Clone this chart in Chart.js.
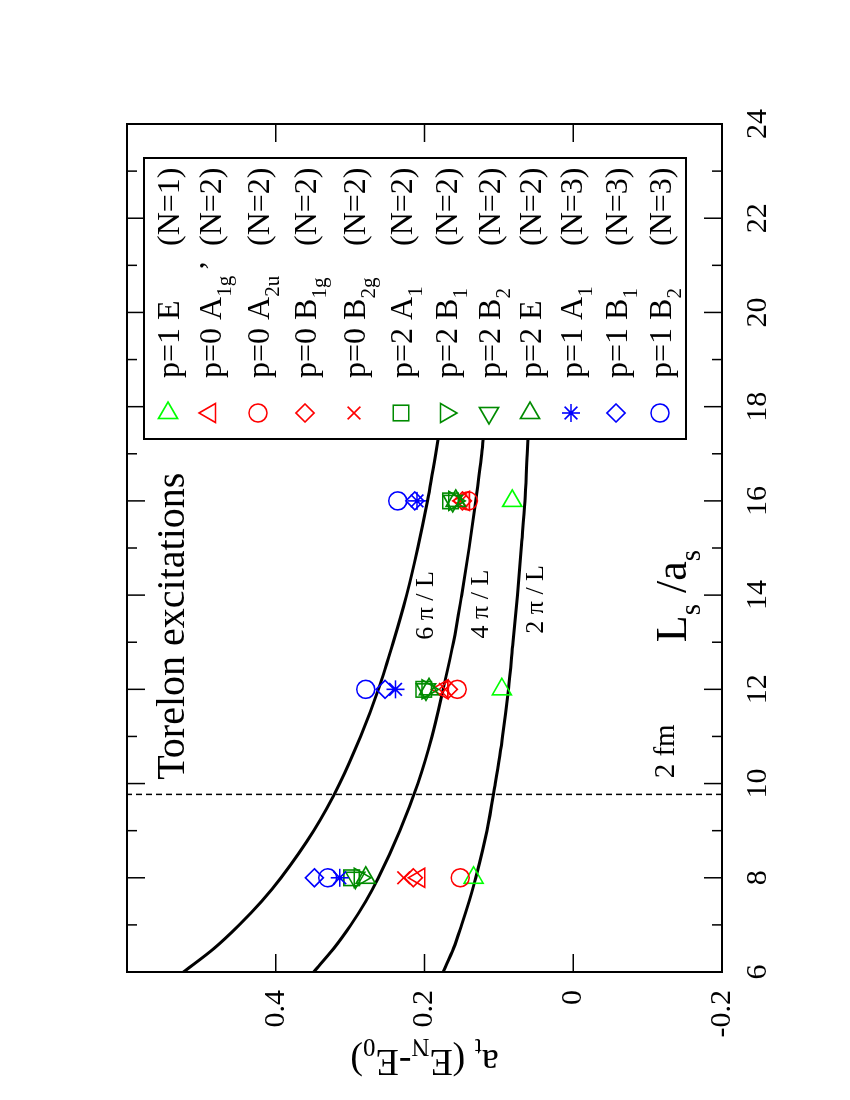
<!DOCTYPE html>
<html>
<head>
<meta charset="utf-8">
<script src="https://cdn.jsdelivr.net/npm/chart.js@4.4.1/dist/chart.umd.min.js"></script>
<style>
html,body{margin:0;padding:0;background:#fff;overflow:hidden;width:850px;height:1100px;}
#wrap{position:absolute;left:0;top:0;width:1100px;height:850px;transform-origin:0 0;transform:translateY(1100px) rotate(-90deg);background:#fff;}
canvas{display:block;}
</style>
</head>
<body>
<div id="wrap"><canvas id="c" width="1100" height="850"></canvas></div>
<script>
// ---------------- data ----------------
const L_VALUES = [8, 12, 16];

const p1_E      = [0.134, 0.096, 0.082];
const p0_A1gp   = [0.207, 0.176, 0.147];
const p0_A2u    = [0.152, 0.156, 0.141];
const p0_B1g    = [0.215, 0.168, 0.149];
const p0_B2g    = [0.228, 0.172, 0.151];
const p2_A1     = [0.298, 0.201, 0.165];
const p2_B1     = [0.287, 0.196, 0.160];
const p2_B2     = [0.293, 0.198, 0.162];
const p2_E      = [0.279, 0.194, 0.158];
const p1_A1_N3  = [0.314, 0.239, 0.210];
const p1_B1_N3  = [0.348, 0.253, 0.213];
const p1_B2_N3  = [0.330, 0.279, 0.236];

const SERIES_NAMES = ["p=1 E (N=1)", "p=0 A1g' (N=2)", "p=0 A2u (N=2)", "p=0 B1g (N=2)", "p=0 B2g (N=2)",
  "p=2 A1 (N=2)", "p=2 B1 (N=2)", "p=2 B2 (N=2)", "p=2 E (N=2)", "p=1 A1 (N=3)", "p=1 B1 (N=3)", "p=1 B2 (N=3)"];
const SERIES_VALUES = [p1_E, p0_A1gp, p0_A2u, p0_B1g, p0_B2g, p2_A1, p2_B1, p2_B2, p2_E, p1_A1_N3, p1_B1_N3, p1_B2_N3];

// legend texts (main part with subscripts, and the N part)
const LEGEND_MAIN = [
  [["p=1 E"]],
  [["p=0 A"], ["1g", "sub"], ["\u2019", "prime"]],
  [["p=0 A"], ["2u", "sub"]],
  [["p=0 B"], ["1g", "sub"]],
  [["p=0 B"], ["2g", "sub"]],
  [["p=2 A"], ["1", "sub"]],
  [["p=2 B"], ["1", "sub"]],
  [["p=2 B"], ["2", "sub"]],
  [["p=2 E"]],
  [["p=1 A"], ["1", "sub"]],
  [["p=1 B"], ["1", "sub"]],
  [["p=1 B"], ["2", "sub"]]
];
const LEGEND_N = ["(N=1)", "(N=2)", "(N=2)", "(N=2)", "(N=2)", "(N=2)", "(N=2)", "(N=2)", "(N=2)", "(N=3)", "(N=3)", "(N=3)"];

// theory curves
const CURVE_L    = [6, 6.5, 7, 7.5, 8, 9, 10, 11, 12, 13, 14, 15, 16, 17, 17.5];
const CURVE_2PI  = [0.175, 0.161, 0.150, 0.140, 0.131, 0.116, 0.105, 0.095, 0.087, 0.081, 0.075, 0.070, 0.065, 0.062, 0.060];
const CURVE_4PI  = [0.349, 0.322, 0.299, 0.279, 0.262, 0.233, 0.209, 0.190, 0.175, 0.161, 0.150, 0.140, 0.131, 0.123, 0.120];
const CURVE_6PI  = [0.524, 0.483, 0.449, 0.419, 0.393, 0.349, 0.314, 0.286, 0.262, 0.242, 0.224, 0.209, 0.196, 0.185, 0.180];

const FM_L = 9.77;          // 2 fm line
const X_MIN = 6, X_MAX = 24, X_STEP = 2;
const Y_MIN = -0.2, Y_MAX = 0.6, Y_STEP = 0.2;

// ---------------- styles ----------------
const LIME = '#00ff00', RED = '#ff0000', DGREEN = '#008b00', BLUE = '#0000ff';
const STYLES = [
  {c: LIME,   s: 'triangle', r: 11, rot: 90},
  {c: RED,    s: 'triangle', r: 11, rot: 0},
  {c: RED,    s: 'circle',   r: 9,  rot: 0},
  {c: RED,    s: 'rectRot',  r: 9,  rot: 0},
  {c: RED,    s: 'crossRot', r: 9,  rot: 0},
  {c: DGREEN, s: 'rect',     r: 11, rot: 0},
  {c: DGREEN, s: 'triangle', r: 11, rot: 180},
  {c: DGREEN, s: 'triangle', r: 11, rot: 270},
  {c: DGREEN, s: 'triangle', r: 11, rot: 90},
  {c: BLUE,   s: 'star',     r: 9,  rot: 0},
  {c: BLUE,   s: 'rectRot',  r: 9,  rot: 0},
  {c: BLUE,   s: 'circle',   r: 9,  rot: 0}
];
const FONT = '"Liberation Serif", "Times New Roman", serif';

function curveDS(vals){
  return {data: CURVE_L.map((x, i) => ({x, y: vals[i]})), showLine: true, borderColor: '#000',
    borderWidth: 3, pointRadius: 0, cubicInterpolationMode: 'monotone', fill: false, order: 20};
}
const datasets = [curveDS(CURVE_2PI), curveDS(CURVE_4PI), curveDS(CURVE_6PI),
  {data: [{x: FM_L, y: Y_MIN}, {x: FM_L, y: Y_MAX}], showLine: true, borderColor: '#000', borderWidth: 1.5,
   borderDash: [6, 4], pointRadius: 0, order: 21}];
SERIES_VALUES.forEach((vals, i) => {
  const st = STYLES[i];
  datasets.push({label: SERIES_NAMES[i], data: L_VALUES.map((x, j) => ({x, y: vals[j]})), showLine: false,
    pointStyle: st.s, pointRadius: st.r, pointRotation: st.rot, pointBorderColor: st.c, pointBackgroundColor: 'rgba(0,0,0,0)',
    pointBorderWidth: 1.6, borderColor: st.c, backgroundColor: 'rgba(0,0,0,0)', order: 10 - i * 0.01, isSeries: true});
});

// rich text helpers
function richWidth(ctx, parts, size){
  let w = 0;
  for (const [t, k] of parts){
    const fs = (k === 'sub') ? Math.round(size * 0.66) : size;
    ctx.font = fs + 'px ' + FONT;
    w += ctx.measureText(t).width + (k === 'prime' ? size * 0.15 : 0);
  }
  return w;
}
function drawRich(ctx, parts, x, y, size){
  let cx = x;
  for (const [t, k] of parts){
    let fs = size, dy = 0;
    if (k === 'sub'){ fs = Math.round(size * 0.66); dy = size * 0.3; }
    if (k === 'prime'){ cx += size * 0.15; }
    ctx.font = fs + 'px ' + FONT;
    ctx.fillText(t, cx, y + dy);
    cx += ctx.measureText(t).width;
  }
  return cx - x;
}

const ANNOT = [
  {parts: [["Torelon excitations"]], x: 10.08, y: 0.523, size: 40},
  {parts: [["6 \u03c0 / L"]], x: 13.05, y: 0.188, size: 26},
  {parts: [["4 \u03c0 / L"]], x: 13.08, y: 0.115, size: 26},
  {parts: [["2 \u03c0 / L"]], x: 13.18, y: 0.041, size: 26},
  {parts: [["2 fm"]], x: 10.11, y: -0.135, size: 29},
  {parts: [["L"], ["s", "sub"], [" /"], ["a"], ["s", "sub"]], x: 13.0, y: -0.152, size: 44}
];
const LEGEND_ROWS = [168, 210, 258, 305, 354, 401, 446, 489, 530, 571, 616, 660];

const decor = {
  id: 'decor',
  afterDatasetsDraw(chart){
    const {ctx, chartArea: a, scales: {x, y}} = chart;
    ctx.save();
    ctx.fillStyle = '#000';
    ctx.textBaseline = 'alphabetic';
    ctx.textAlign = 'left';
    // annotations
    for (const an of ANNOT){
      drawRich(ctx, an.parts, x.getPixelForValue(an.x), y.getPixelForValue(an.y), an.size);
    }
    // legend box
    const bx0 = 661, bx1 = 942, by0 = 144, by1 = 686;
    ctx.fillStyle = '#fff';
    ctx.fillRect(bx0, by0, bx1 - bx0, by1 - by0);
    ctx.strokeStyle = '#000';
    ctx.lineWidth = 2;
    ctx.strokeRect(bx0, by0, bx1 - bx0, by1 - by0);
    const ser = chart.data.datasets.filter(d => d.isSeries);
    ser.forEach((d, i) => {
      const ry = LEGEND_ROWS[i];
      ctx.save();
      ctx.strokeStyle = d.pointBorderColor;
      ctx.fillStyle = 'rgba(0,0,0,0)';
      ctx.lineWidth = d.pointBorderWidth;
      Chart.helpers.drawPoint(ctx, {pointStyle: d.pointStyle, rotation: d.pointRotation, radius: d.pointRadius, borderWidth: d.pointBorderWidth}, 687, ry);
      ctx.restore();
      ctx.fillStyle = '#000';
      drawRich(ctx, LEGEND_MAIN[i], 722, ry + 11, 32);
      drawRich(ctx, [[LEGEND_N[i]]], 854, ry + 11, 32);
    });
    // y-axis title (rotated)
    const tParts = [["a"], ["t", "sub"], [" (E"], ["N", "sub"], ["-E"], ["0", "sub"], [")"]];
    const tw = richWidth(ctx, tParts, 38);
    ctx.save();
    ctx.translate(50, y.getPixelForValue((Y_MIN + Y_MAX) / 2));
    ctx.rotate(-Math.PI / 2);
    ctx.fillStyle = '#000';
    drawRich(ctx, tParts, -tw / 2, 0, 38);
    ctx.restore();
    // frame
    ctx.strokeStyle = '#000';
    ctx.lineWidth = 2;
    ctx.strokeRect(a.left, a.top, a.right - a.left, a.bottom - a.top);
    ctx.lineWidth = 1.5;
    ctx.beginPath();
    for (let v = X_MIN; v <= X_MAX; v++){
      const px = x.getPixelForValue(v);
      const len = (v % 2 === 0) ? 18 : 10;
      ctx.moveTo(px, a.bottom); ctx.lineTo(px, a.bottom - len);
      ctx.moveTo(px, a.top); ctx.lineTo(px, a.top + len);
    }
    y.ticks.forEach(t => {
      const py = y.getPixelForValue(t.value);
      ctx.moveTo(a.left, py); ctx.lineTo(a.left + 18, py);
      ctx.moveTo(a.right, py); ctx.lineTo(a.right - 18, py);
    });
    ctx.stroke();
    ctx.restore();
  }
};

new Chart(document.getElementById('c'), {
  type: 'scatter',
  data: {datasets},
  options: {
    responsive: false,
    animation: false,
    devicePixelRatio: 1,
    layout: {padding: {left: 0, right: 124, top: 127, bottom: 0}},
    plugins: {legend: {display: false}, tooltip: {enabled: false}, title: {display: false}},
    scales: {
      x: {
        type: 'linear', min: X_MIN, max: X_MAX,
        grid: {display: false}, border: {display: false},
        ticks: {stepSize: X_STEP, padding: 10, color: '#000', font: {family: FONT, size: 30}, maxRotation: 0,
          callback: v => String(Math.round(v))},
        afterFit: s => { s.height = 128; }
      },
      y: {
        type: 'linear', min: Y_MIN, max: Y_MAX,
        grid: {display: false}, border: {display: false},
        ticks: {stepSize: Y_STEP, padding: 10, color: '#000', font: {family: FONT, size: 30},
          callback: v => (Math.abs(v - Y_MAX) < 1e-9) ? '' : String(Math.round(v * 10) / 10)},
        afterFit: s => { s.width = 128; }
      }
    }
  },
  plugins: [decor]
});
</script>
</body>
</html>
